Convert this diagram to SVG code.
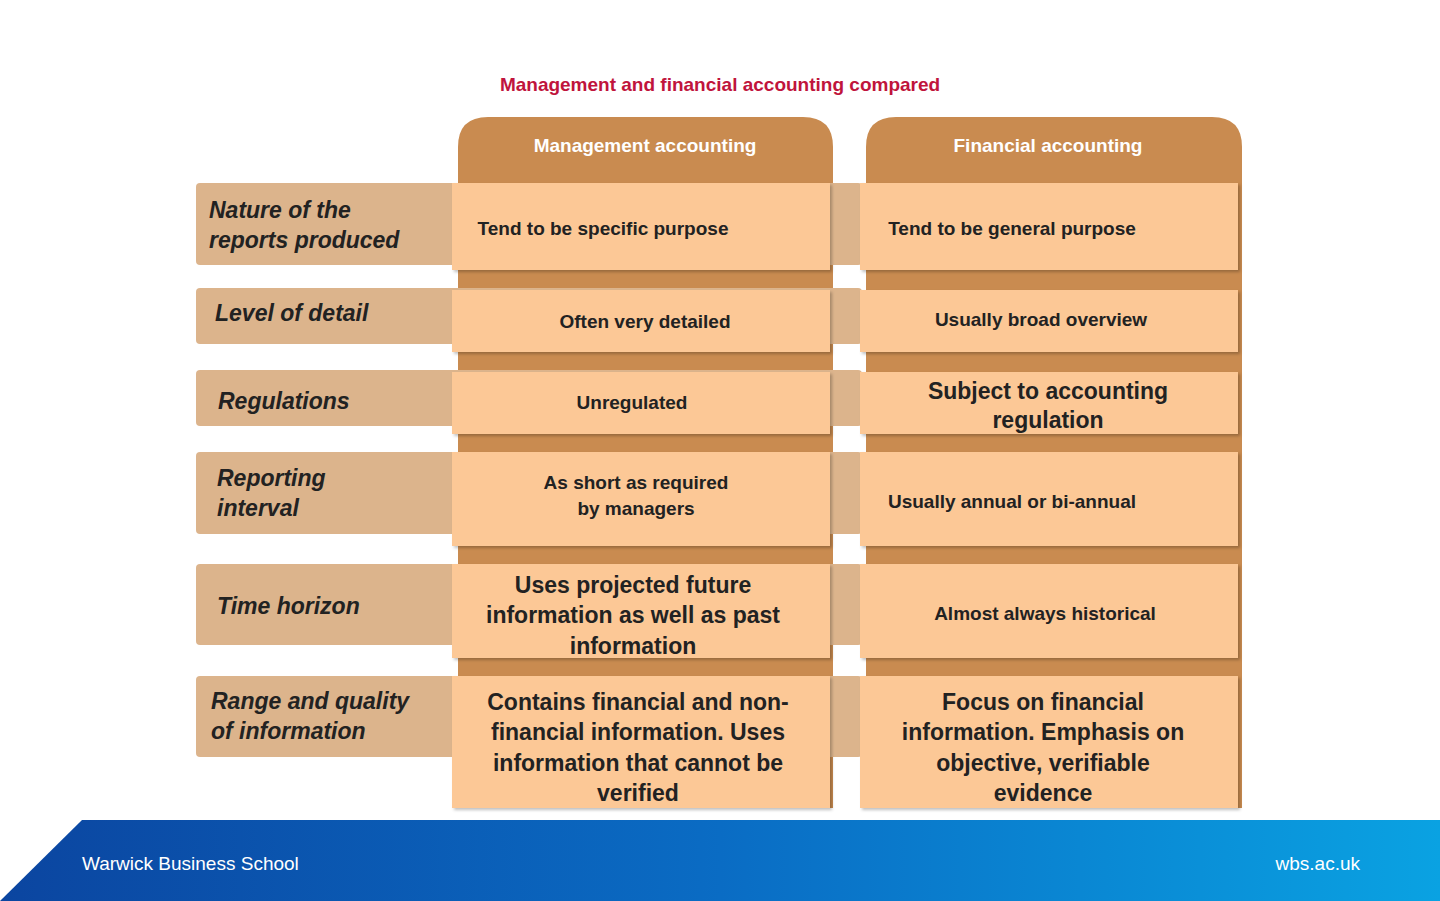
<svg xmlns="http://www.w3.org/2000/svg" width="1440" height="901" viewBox="0 0 1440 901">
<defs>
<linearGradient id="ft" x1="0" y1="0" x2="1" y2="0"><stop offset="0" stop-color="#0B45A0"/><stop offset="0.5" stop-color="#0A6CC4"/><stop offset="1" stop-color="#0AA2E2"/></linearGradient>
<filter id="sh" x="-5%" y="-5%" width="110%" height="115%"><feDropShadow dx="2" dy="2" stdDeviation="1.5" flood-color="#000" flood-opacity="0.25"/></filter>
<style>
.lab{fill:#DCB48C}
.cell{fill:#FCC896;filter:url(#sh)}
.col{fill:#C98B50}
text{font-family:"Liberation Sans",Arial,sans-serif;font-weight:bold;fill:#222}
.lt{font-style:italic;font-size:23px}
.ct{font-size:19px;text-anchor:middle}
.bt{font-size:23px;text-anchor:middle}
.ht{fill:#fff;font-size:19px;text-anchor:middle}
</style>
</defs>
<rect width="1440" height="901" fill="#fff"/>
<text x="720" y="91" text-anchor="middle" font-size="19" style="fill:#C0143C">Management and financial accounting compared</text>
<g id="columns">
<path class="col" d="M458 808 V147 Q458 117 488 117 H803 Q833 117 833 147 V808 Z"/>
<path class="col" d="M866 808 V147 Q866 117 896 117 H1212 Q1242 117 1242 147 V808 Z"/>
<text class="ht" x="645" y="152">Management accounting</text>
<text class="ht" x="1048" y="152">Financial accounting</text>
</g>
<g id="row1"><rect class="lab" x="196" y="183" width="666" height="82" rx="4"/>
<rect class="cell" x="452" y="183" width="378" height="87"/><rect class="cell" x="860" y="183" width="378" height="87"/>
<text class="lt" x="209" y="218">Nature of the</text><text class="lt" x="209" y="248">reports produced</text>
<text class="ct" x="603" y="235">Tend to be specific purpose</text><text class="ct" x="1012" y="235">Tend to be general purpose</text></g>
<g id="row2"><rect class="lab" x="196" y="288" width="666" height="56" rx="4"/>
<rect class="cell" x="452" y="290" width="378" height="62"/><rect class="cell" x="860" y="290" width="378" height="62"/>
<text class="lt" x="215" y="321">Level of detail</text>
<text class="ct" x="645" y="328">Often very detailed</text><text class="ct" x="1041" y="326">Usually broad overview</text></g>
<g id="row3"><rect class="lab" x="196" y="370" width="666" height="56" rx="4"/>
<rect class="cell" x="452" y="372" width="378" height="62"/><rect class="cell" x="860" y="372" width="378" height="62"/>
<text class="lt" x="218" y="409">Regulations</text>
<text class="ct" x="632" y="409">Unregulated</text>
<text class="bt" x="1048" y="399">Subject to accounting</text><text class="bt" x="1048" y="428">regulation</text></g>
<g id="row4"><rect class="lab" x="196" y="452" width="666" height="82" rx="4"/>
<rect class="cell" x="452" y="452" width="378" height="94"/><rect class="cell" x="860" y="452" width="378" height="94"/>
<text class="lt" x="217" y="486">Reporting</text><text class="lt" x="217" y="516">interval</text>
<text class="ct" x="636" y="489">As short as required</text><text class="ct" x="636" y="515">by managers</text>
<text class="ct" x="1012" y="508">Usually annual or bi-annual</text></g>
<g id="row5"><rect class="lab" x="196" y="564" width="666" height="81" rx="4"/>
<rect class="cell" x="452" y="564" width="378" height="94"/><rect class="cell" x="860" y="564" width="378" height="94"/>
<text class="lt" x="217" y="614">Time horizon</text>
<text class="bt" x="633" y="593">Uses projected future</text><text class="bt" x="633" y="623">information as well as past</text><text class="bt" x="633" y="654">information</text>
<text class="ct" x="1045" y="620">Almost always historical</text></g>
<g id="row6"><rect class="lab" x="196" y="676" width="666" height="81" rx="4"/>
<rect class="cell" x="452" y="676" width="378" height="132"/><rect class="cell" x="860" y="676" width="378" height="132"/>
<text class="lt" x="211" y="709">Range and quality</text><text class="lt" x="211" y="739">of information</text>
<text class="bt" x="638" y="710">Contains financial and non-</text><text class="bt" x="638" y="740">financial information. Uses</text><text class="bt" x="638" y="771">information that cannot be</text><text class="bt" x="638" y="801">verified</text>
<text class="bt" x="1043" y="710">Focus on financial</text><text class="bt" x="1043" y="740">information. Emphasis on</text><text class="bt" x="1043" y="771">objective, verifiable</text><text class="bt" x="1043" y="801">evidence</text></g>
<g id="footer">
<polygon points="82,820 1440,820 1440,901 0,901" fill="url(#ft)"/>
<text x="82" y="870" font-size="19" style="fill:#fff;font-weight:normal">Warwick Business School</text>
<text x="1360" y="870" font-size="19" text-anchor="end" style="fill:#fff;font-weight:normal">wbs.ac.uk</text>
</g>
</svg>
